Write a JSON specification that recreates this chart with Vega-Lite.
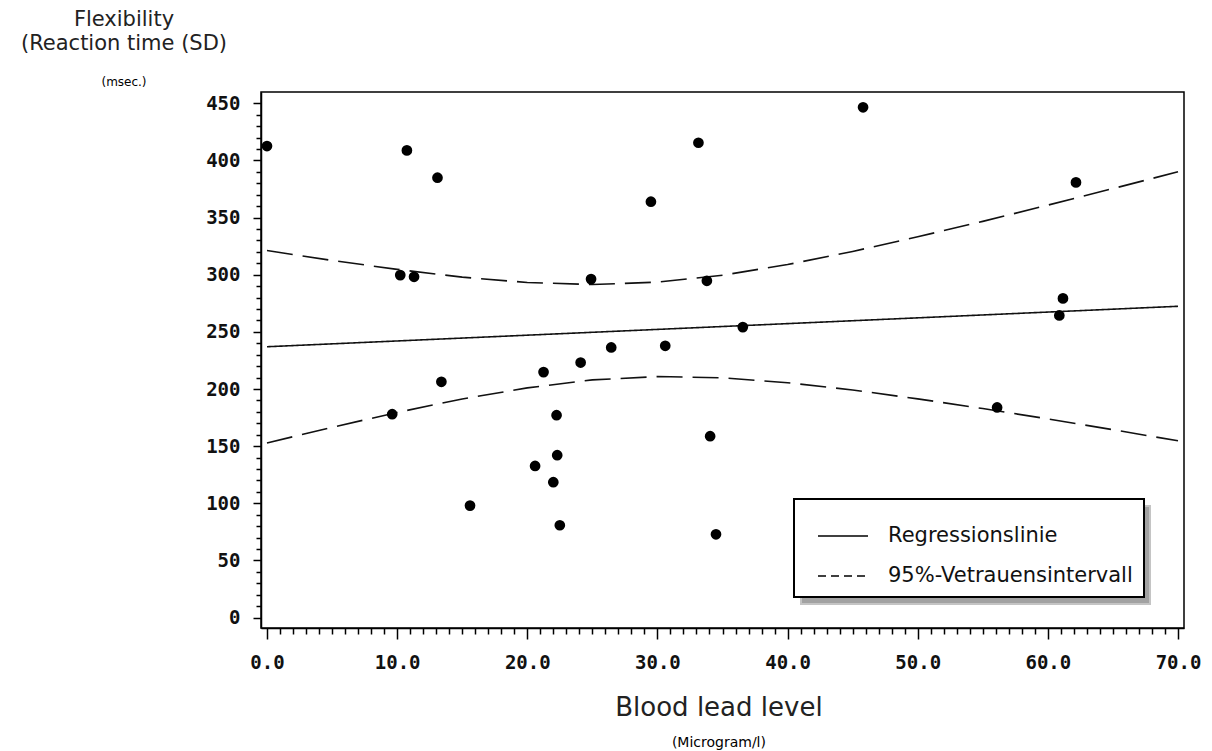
{
  "$schema": "https://vega.github.io/schema/vega-lite/v6.json",
  "padding": {"left": 20, "top": 8, "right": 5, "bottom": 5},
  "background": "white",
  "datasets": {
    "points": [
      {"lead": 0.0, "rt": 412.6}, {"lead": 10.75, "rt": 408.8}, {"lead": 13.1, "rt": 384.9},
      {"lead": 10.24, "rt": 299.7}, {"lead": 11.3, "rt": 298.2}, {"lead": 24.9, "rt": 296.2},
      {"lead": 24.1, "rt": 223.2}, {"lead": 21.25, "rt": 214.8}, {"lead": 13.4, "rt": 206.3},
      {"lead": 9.62, "rt": 178.0}, {"lead": 22.25, "rt": 177.1}, {"lead": 22.3, "rt": 142.1},
      {"lead": 20.6, "rt": 132.7}, {"lead": 22.0, "rt": 118.5}, {"lead": 15.6, "rt": 98.0},
      {"lead": 22.5, "rt": 80.8}, {"lead": 45.8, "rt": 446.5}, {"lead": 33.15, "rt": 415.5},
      {"lead": 29.5, "rt": 363.9}, {"lead": 33.8, "rt": 294.7}, {"lead": 36.56, "rt": 254.2},
      {"lead": 26.45, "rt": 236.4}, {"lead": 30.6, "rt": 237.8}, {"lead": 34.05, "rt": 158.7},
      {"lead": 34.5, "rt": 72.9}, {"lead": 62.16, "rt": 380.8}, {"lead": 61.16, "rt": 279.3},
      {"lead": 60.88, "rt": 264.4}, {"lead": 56.1, "rt": 183.9}
    ],
    "lines": [
      {"lead": 0, "rt": 237.0, "curve": "fit", "kind": "Regressionslinie"},
      {"lead": 70, "rt": 272.4, "curve": "fit", "kind": "Regressionslinie"},
      {"lead": 0, "rt": 321.2, "curve": "upper", "kind": "95%-Vetrauensintervall"},
      {"lead": 5, "rt": 312.5, "curve": "upper", "kind": "95%-Vetrauensintervall"},
      {"lead": 10, "rt": 304.7, "curve": "upper", "kind": "95%-Vetrauensintervall"},
      {"lead": 15, "rt": 297.9, "curve": "upper", "kind": "95%-Vetrauensintervall"},
      {"lead": 20, "rt": 293.2, "curve": "upper", "kind": "95%-Vetrauensintervall"},
      {"lead": 25, "rt": 291.4, "curve": "upper", "kind": "95%-Vetrauensintervall"},
      {"lead": 30, "rt": 293.5, "curve": "upper", "kind": "95%-Vetrauensintervall"},
      {"lead": 35, "rt": 299.6, "curve": "upper", "kind": "95%-Vetrauensintervall"},
      {"lead": 40, "rt": 308.9, "curve": "upper", "kind": "95%-Vetrauensintervall"},
      {"lead": 45, "rt": 320.4, "curve": "upper", "kind": "95%-Vetrauensintervall"},
      {"lead": 50, "rt": 333.2, "curve": "upper", "kind": "95%-Vetrauensintervall"},
      {"lead": 55, "rt": 346.7, "curve": "upper", "kind": "95%-Vetrauensintervall"},
      {"lead": 60, "rt": 360.9, "curve": "upper", "kind": "95%-Vetrauensintervall"},
      {"lead": 65, "rt": 375.4, "curve": "upper", "kind": "95%-Vetrauensintervall"},
      {"lead": 70, "rt": 390.1, "curve": "upper", "kind": "95%-Vetrauensintervall"},
      {"lead": 0, "rt": 152.8, "curve": "lower", "kind": "95%-Vetrauensintervall"},
      {"lead": 5, "rt": 166.5, "curve": "lower", "kind": "95%-Vetrauensintervall"},
      {"lead": 10, "rt": 179.5, "curve": "lower", "kind": "95%-Vetrauensintervall"},
      {"lead": 15, "rt": 191.3, "curve": "lower", "kind": "95%-Vetrauensintervall"},
      {"lead": 20, "rt": 201.0, "curve": "lower", "kind": "95%-Vetrauensintervall"},
      {"lead": 25, "rt": 208.0, "curve": "lower", "kind": "95%-Vetrauensintervall"},
      {"lead": 30, "rt": 210.9, "curve": "lower", "kind": "95%-Vetrauensintervall"},
      {"lead": 35, "rt": 209.8, "curve": "lower", "kind": "95%-Vetrauensintervall"},
      {"lead": 40, "rt": 205.5, "curve": "lower", "kind": "95%-Vetrauensintervall"},
      {"lead": 45, "rt": 199.2, "curve": "lower", "kind": "95%-Vetrauensintervall"},
      {"lead": 50, "rt": 191.4, "curve": "lower", "kind": "95%-Vetrauensintervall"},
      {"lead": 55, "rt": 182.9, "curve": "lower", "kind": "95%-Vetrauensintervall"},
      {"lead": 60, "rt": 173.9, "curve": "lower", "kind": "95%-Vetrauensintervall"},
      {"lead": 65, "rt": 164.4, "curve": "lower", "kind": "95%-Vetrauensintervall"},
      {"lead": 70, "rt": 154.7, "curve": "lower", "kind": "95%-Vetrauensintervall"}
    ]
  },
  "title": {
    "text": "Blood lead level",
    "subtitle": "(Microgram/l)",
    "orient": "bottom",
    "anchor": "middle",
    "dx": 108,
    "offset": 22,
    "font": "DejaVu Sans",
    "fontSize": 26,
    "fontWeight": "normal",
    "color": "#222",
    "subtitleFont": "DejaVu Sans",
    "subtitleFontSize": 14,
    "subtitleColor": "black",
    "subtitlePadding": 15
  },
  "vconcat": [
    {
      "width": 923,
      "height": 536,
      "title": {
        "text": ["Flexibility", "(Reaction time (SD)"],
        "subtitle": "(msec.)",
        "anchor": "start",
        "frame": "group",
        "align": "center",
        "dx": -137,
        "offset": 4,
        "font": "DejaVu Sans",
        "fontSize": 21,
        "fontWeight": "normal",
        "lineHeight": 24,
        "color": "#222",
        "subtitleFont": "DejaVu Sans",
        "subtitleFontSize": 12,
        "subtitleColor": "black",
        "subtitlePadding": 23
      },
      "encoding": {
        "x": {
          "field": "lead", "type": "quantitative",
          "scale": {"domain": [-0.46, 70.46], "nice": false, "zero": false},
          "axis": {
            "title": null,
            "values": [0,1,2,3,4,5,6,7,8,9,10,11,12,13,14,15,16,17,18,19,20,21,22,23,24,25,26,27,28,29,30,31,32,33,34,35,36,37,38,39,40,41,42,43,44,45,46,47,48,49,50,51,52,53,54,55,56,57,58,59,60,61,62,63,64,65,66,67,68,69,70],
            "format": ".1f",
            "labelExpr": "datum.value % 10 === 0 ? datum.label : ''",
            "labelOverlap": false,
            "labelFlush": false,
            "tickSize": {"condition": {"test": "datum.value % 10 === 0", "value": 11}, "value": 6},
            "labelPadding": 14
          }
        },
        "y": {
          "field": "rt", "type": "quantitative",
          "scale": {"domain": [-9.1, 459.9], "nice": false, "zero": false},
          "axis": {
            "title": null,
            "values": [0,10,20,30,40,50,60,70,80,90,100,110,120,130,140,150,160,170,180,190,200,210,220,230,240,250,260,270,280,290,300,310,320,330,340,350,360,370,380,390,400,410,420,430,440,450],
            "labelExpr": "datum.value % 50 === 0 ? datum.label : ''",
            "labelOverlap": false,
            "labelFlush": false,
            "tickSize": {"condition": {"test": "datum.value % 50 === 0", "value": 8}, "value": 5},
            "labelPadding": 13
          }
        }
      },
      "layer": [
        {
          "data": {"name": "lines"},
          "mark": {"type": "line", "color": "#111", "strokeWidth": 1.6},
          "encoding": {
            "detail": {"field": "curve"},
            "strokeDash": {
              "field": "kind", "type": "nominal",
              "scale": {"domain": ["95%-Vetrauensintervall", "Regressionslinie"], "range": [[26, 10], [1, 0]]},
              "legend": {
                "title": null,
                "orient": "none",
                "legendX": 540,
                "legendY": 414,
                "direction": "vertical",
                "symbolType": "stroke",
                "symbolSize": 2500,
                "symbolOffset": 12,
                "symbolStrokeWidth": 1.5,
                "symbolOpacity": 0,
                "labelFont": "DejaVu Sans",
                "labelFontSize": 21,
                "labelOpacity": 0,
                "labelOffset": 263,
                "labelLimit": 400,
                "labelExpr": "'\u00a0\u00a0\u00a0\u00a0\u00a0\u00a0\u00a0\u00a0\u00a0\u00a0\u00a0\u00a0\u00a0\u00a0\u00a0\u00a0\u00a0\u00a0\u00a0\u00a0\u00a0\u00a0\u00a0\u00a0\u00a0\u00a0\u00a0\u00a0\u00a0\u00a0\u00a0\u00a0\u00a0\u00a0\u00a0\u00a0\u00a0\u00a0'",
                "rowPadding": 4,
                "padding": 11,
                "strokeColor": "#c4c4c4",
                "fillColor": "#a2a2a2"
              }
            }
          }
        },
        {
          "data": {"name": "points"},
          "mark": {"type": "circle", "color": "black", "opacity": 1, "size": 115},
          "encoding": {
            "x": {"field": "lead", "type": "quantitative"},
            "y": {"field": "rt", "type": "quantitative"}
          }
        },
        {
          "data": {"name": "lines"},
          "mark": {"type": "point", "color": "black", "filled": false, "strokeWidth": 1.5, "size": 0},
          "encoding": {
            "x": {"field": "lead", "type": "quantitative"},
            "y": {"field": "rt", "type": "quantitative"},
            "shape": {
              "field": "kind", "type": "nominal",
              "scale": {
                "domain": ["Regressionslinie", "95%-Vetrauensintervall"],
                "range": ["M-1,0H1", "M-1,0H-0.68M-0.48,0H-0.16M0.04,0H0.36M0.56,0H0.88"]
              },
              "legend": {
                "title": null,
                "orient": "none",
                "legendX": 533,
                "legendY": 407,
                "direction": "vertical",
                "symbolSize": 2500,
                "symbolOffset": 12,
                "symbolStrokeWidth": 1.5,
                "symbolStrokeColor": "black",
                "symbolFillColor": "transparent",
                "symbolOpacity": 1,
                "labelFont": "DejaVu Sans",
                "labelFontSize": 21,
                "labelColor": "#111",
                "labelOffset": 19,
                "labelLimit": 400,
                "labelExpr": "datum.label + '\u00a0\u00a0\u00a0\u00a0\u00a0'",
                "rowPadding": 4,
                "padding": 11,
                "strokeColor": "black",
                "fillColor": "white"
              }
            }
          }
        }
      ]
    }
  ],
  "config": {
    "view": {"stroke": "black", "strokeWidth": 1.5},
    "legend": {"strokeWidth": 2},
    "axis": {
      "domainColor": "black",
      "domainWidth": 1.5,
      "tickColor": "black",
      "tickWidth": 1.5,
      "grid": false,
      "labelFont": "DejaVu Sans Mono",
      "labelFontWeight": "bold",
      "labelFontSize": 19,
      "labelColor": "#111"
    }
  }
}
